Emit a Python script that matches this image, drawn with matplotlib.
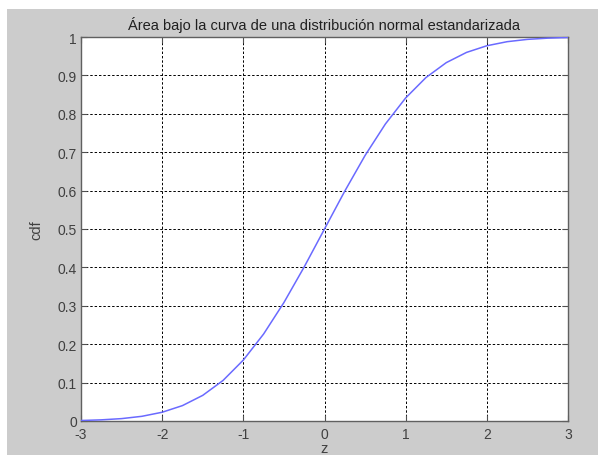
import matplotlib
matplotlib.use('Agg')
from matplotlib import pyplot as plt
from matplotlib.patches import Rectangle

plt.rcParams['font.family'] = ['Liberation Sans', 'DejaVu Sans']
plt.rcParams['font.size'] = 10.5

## values
z = [-3, -2.75, -2.5, -2.25, -2, -1.75, -1.5, -1.25, -1, -0.75, -0.5, -0.25, 0,
     0.25, 0.5, 0.75, 1, 1.25, 1.5, 1.75, 2, 2.25, 2.5, 2.75, 3]
cdf = [0.0013, 0.0030, 0.0062, 0.0122, 0.0228, 0.0401, 0.0668, 0.1056, 0.1587,
       0.2266, 0.3085, 0.4013, 0.5, 0.5987, 0.6915, 0.7734, 0.8413, 0.8944,
       0.9332, 0.9599, 0.9772, 0.9878, 0.9938, 0.9970, 0.9987]
xticks = [-3, -2, -1, 0, 1, 2, 3]
yticks = [0, 0.1, 0.2, 0.3, 0.4, 0.5, 0.6, 0.7, 0.8, 0.9, 1]
ytick_labels = ['0', '0.1', '0.2', '0.3', '0.4', '0.5', '0.6', '0.7', '0.8', '0.9', '1']

W, H = 598, 456
fig = plt.figure(figsize=(W/100, H/100), dpi=100)
fig.patch.set_facecolor('white')
# gray matlab-style background, white strip at top and left
fig.patches.append(Rectangle((7/W, 0), 1 - 7/W, 1 - 10/H, transform=fig.transFigure,
                             facecolor='#cccccc', edgecolor='none', zorder=-1))

ax = fig.add_axes([81/W, 1 - 422/H, (568-81)/W, (422-38)/H])
ax.set_facecolor('white')
ax.plot(z, cdf, color='#6a6aff', lw=1.1, zorder=3)

ax.set_xlim(-3, 3)
ax.set_ylim(0, 1)
ax.set_xticks(xticks)
ax.set_xticklabels([str(t) for t in xticks])
ax.set_yticks(yticks)
ax.set_yticklabels(ytick_labels)
ax.grid(True, color='black', linestyle=(0, (2.5, 2)), linewidth=0.7)
ax.tick_params(direction='in', top=True, right=True, length=4, width=0.8,
               colors='#505050', labelcolor='#404040', labelsize=10)
ax.tick_params(axis='x', pad=4)
ax.tick_params(axis='y', pad=3)
for s in ax.spines.values():
    s.set_color('#606060')
    s.set_linewidth(1.0)
# nudge y labels up a touch so "0" clears "-3"
for lab in ax.get_yticklabels():
    lab.set_verticalalignment('center_baseline')

ax.set_title('Área bajo la curva de una distribución normal estandarizada',
             fontsize=10.5, color='#202020', pad=6)
ax.set_ylabel('cdf', fontsize=10.5, color='#404040', labelpad=10)
ax.set_xlabel('z', fontsize=10.5, color='#404040', labelpad=0)

fig.savefig('out.png', dpi=100)
